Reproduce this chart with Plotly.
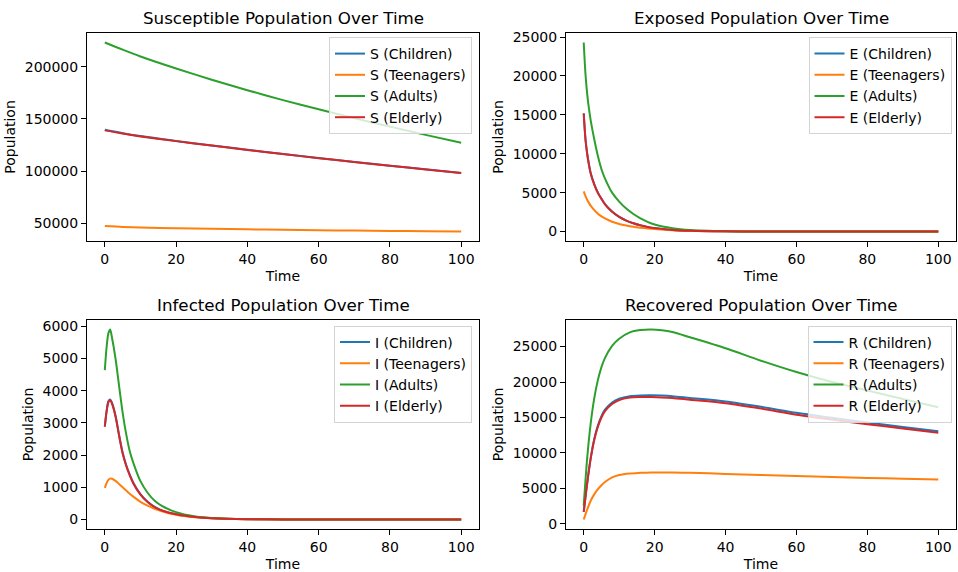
import plotly.graph_objects as go

W, H = 958, 572
groups = ["Children", "Teenagers", "Adults", "Elderly"]
colors = ["#1f77b4", "#ff7f0e", "#2ca02c", "#d62728"]

# ---- Susceptible ----
t_S = [0, 5, 10, 20, 30, 40, 50, 60, 70, 80, 90, 100]
S_children = [139500, 136300, 133500, 128900, 124600, 120400, 116400, 112500, 108800, 105200, 101700, 98200]
S_teenagers = [47400, 46500, 45900, 45200, 44700, 44200, 43800, 43400, 43000, 42700, 42400, 42100]
S_adults = [223200, 216300, 209800, 198300, 187500, 177500, 168000, 159200, 150700, 142600, 134700, 127100]
S_elderly = [139000, 135900, 133200, 128700, 124400, 120300, 116300, 112400, 108700, 105100, 101600, 98100]

# ---- Exposed ----
t_E = [0, 0.5, 1, 1.5, 2, 3, 4, 5, 6, 8, 10, 12, 14, 16, 18, 20, 25, 30, 40, 50, 60, 80, 100]
E_children = [15200, 11850, 9950, 8550, 7450, 6050, 5000, 4230, 3530, 2570, 1890, 1410, 1070, 800, 600, 445, 212, 100, 25, 6, 2, 0, 0]
E_teenagers = [5170, 4550, 4050, 3650, 3300, 2750, 2300, 1950, 1680, 1260, 980, 780, 620, 500, 400, 320, 180, 90, 25, 7, 2, 0, 0]
E_adults = [24300, 20200, 17600, 15700, 14200, 11800, 9700, 8000, 6800, 5000, 3850, 2950, 2250, 1700, 1250, 900, 430, 200, 50, 15, 5, 1, 0]
E_elderly = [15150, 11800, 9900, 8500, 7400, 6000, 4950, 4200, 3500, 2550, 1880, 1400, 1060, 790, 590, 440, 210, 100, 25, 6, 2, 0, 0]

# ---- Infected ----
t_I = [0, 0.5, 1, 1.5, 2, 3, 4, 5, 6, 7, 8, 10, 12, 14, 16, 20, 25, 30, 40, 50, 60, 80, 100]
I_children = [2890, 3370, 3670, 3730, 3630, 3230, 2630, 2080, 1690, 1390, 1140, 785, 550, 390, 285, 165, 82, 39, 9, 2, 1, 0, 0]
I_teenagers = [980, 1130, 1230, 1270, 1265, 1200, 1100, 1000, 900, 800, 710, 550, 430, 330, 255, 150, 75, 35, 8, 2, 1, 0, 0]
I_adults = [4640, 5350, 5780, 5900, 5650, 5000, 4150, 3320, 2650, 2120, 1760, 1190, 830, 580, 420, 230, 105, 50, 12, 3, 1, 0, 0]
I_elderly = [2880, 3350, 3640, 3705, 3600, 3200, 2600, 2050, 1670, 1370, 1120, 770, 540, 380, 280, 160, 80, 38, 9, 2, 1, 0, 0]

# ---- Recovered ----
t_R = [0, 1, 2, 3, 4, 5, 6, 8, 10, 13, 16, 19, 22, 25, 30, 40, 50, 60, 70, 80, 90, 100]
R_children = [1690, 5850, 9400, 12050, 13900, 15200, 16100, 17100, 17650, 18000, 18100, 18120, 18080, 18000, 17750, 17250, 16500, 15650, 14950, 14280, 13650, 13050]
R_teenagers = [620, 2050, 3300, 4200, 4900, 5450, 5900, 6550, 6900, 7120, 7200, 7250, 7260, 7250, 7200, 7050, 6900, 6750, 6600, 6480, 6360, 6250]
R_adults = [2600, 9400, 14300, 17800, 20300, 22100, 23400, 25100, 26100, 27000, 27320, 27400, 27300, 27050, 26300, 24750, 23000, 21400, 20000, 18800, 17600, 16450]
R_elderly = [1690, 5800, 9300, 11900, 13700, 15000, 15900, 16900, 17450, 17800, 17880, 17880, 17830, 17750, 17500, 17000, 16250, 15400, 14700, 14050, 13450, 12850]

titles = ["Susceptible Population Over Time", "Exposed Population Over Time",
          "Infected Population Over Time", "Recovered Population Over Time"]
prefixes = ["S", "E", "I", "R"]
panels = [
    (t_S, [S_children, S_teenagers, S_adults, S_elderly]),
    (t_E, [E_children, E_teenagers, E_adults, E_elderly]),
    (t_I, [I_children, I_teenagers, I_adults, I_elderly]),
    (t_R, [R_children, R_teenagers, R_adults, R_elderly]),
]
yticks = [
    [50000, 100000, 150000, 200000],
    [0, 5000, 10000, 15000, 20000, 25000],
    [0, 1000, 2000, 3000, 4000, 5000, 6000],
    [0, 5000, 10000, 15000, 20000, 25000],
]
xticks = [0, 20, 40, 60, 80, 100]
# axes boxes in pixels: (left, right, top, bottom)
boxes = [(87, 479, 33, 241), (566, 956, 33, 241), (87, 479, 320, 529), (566, 956, 320, 529)]
legend_pos = [(472, 37), (951.5, 37), (472, 325.5), (951.5, 325.5)]

FONT = "DejaVu Sans"
fig = go.Figure()
layout = dict(
    width=W, height=H, margin=dict(l=0, r=0, t=0, b=0),
    paper_bgcolor="white", plot_bgcolor="white",
    font=dict(family=FONT, size=14, color="black"),
    annotations=[],
)

for k, ((t, series), title, pre) in enumerate(zip(panels, titles, prefixes)):
    n = "" if k == 0 else str(k + 1)
    leg = "legend" if k == 0 else f"legend{k + 1}"
    for g, c, vals in zip(groups, colors, series):
        fig.add_trace(go.Scatter(
            x=t, y=vals, mode="lines", name=f"{pre} ({g})",
            line=dict(color=c, width=2, shape="spline", smoothing=0.8),
            xaxis=f"x{n}", yaxis=f"y{n}", legend=leg,
        ))
    l, r, tp, b = boxes[k]
    allv = [v for s in series for v in s]
    lo, hi = min(allv), max(allv)
    pad = (hi - lo) * 0.05
    common = dict(
        showline=True, mirror=True, linecolor="black", linewidth=1,
        ticks="outside", ticklen=5, tickwidth=1, tickcolor="black",
        showgrid=False, zeroline=False, automargin=False,
        tickfont=dict(family=FONT, size=14, color="black"),
    )
    layout[f"xaxis{n}"] = dict(
        domain=[l / W, r / W], anchor=f"y{n}", range=[-5, 105],
        tickvals=xticks, ticktext=[str(v) for v in xticks],
        title=dict(text="Time", standoff=5, font=dict(family=FONT, size=14)),
        **common,
    )
    layout[f"yaxis{n}"] = dict(
        domain=[1 - b / H, 1 - tp / H], anchor=f"x{n}", range=[lo - pad, hi + pad],
        tickvals=yticks[k], ticktext=[str(v) for v in yticks[k]],
        title=dict(text="Population", standoff=5, font=dict(family=FONT, size=14)),
        **common,
    )
    layout["annotations"].append(dict(
        text=title, xref="paper", yref="paper", x=(l + r) / 2 / W,
        y=1 - (tp - 15) / H, xanchor="center", yanchor="middle", showarrow=False,
        font=dict(family=FONT, size=16.7, color="black"),
    ))
    lx, ly = legend_pos[k]
    layout[leg] = dict(
        x=lx / W, y=1 - ly / H, xanchor="right", yanchor="top",
        bgcolor="rgba(255,255,255,0.8)", bordercolor="#d4d4d4", borderwidth=1,
        font=dict(family=FONT, size=14, color="black"),
    )

fig.update_layout(**layout)
fig.write_html("out.html", config={"displayModeBar": False},
               post_script="document.body.style.margin='0';")
